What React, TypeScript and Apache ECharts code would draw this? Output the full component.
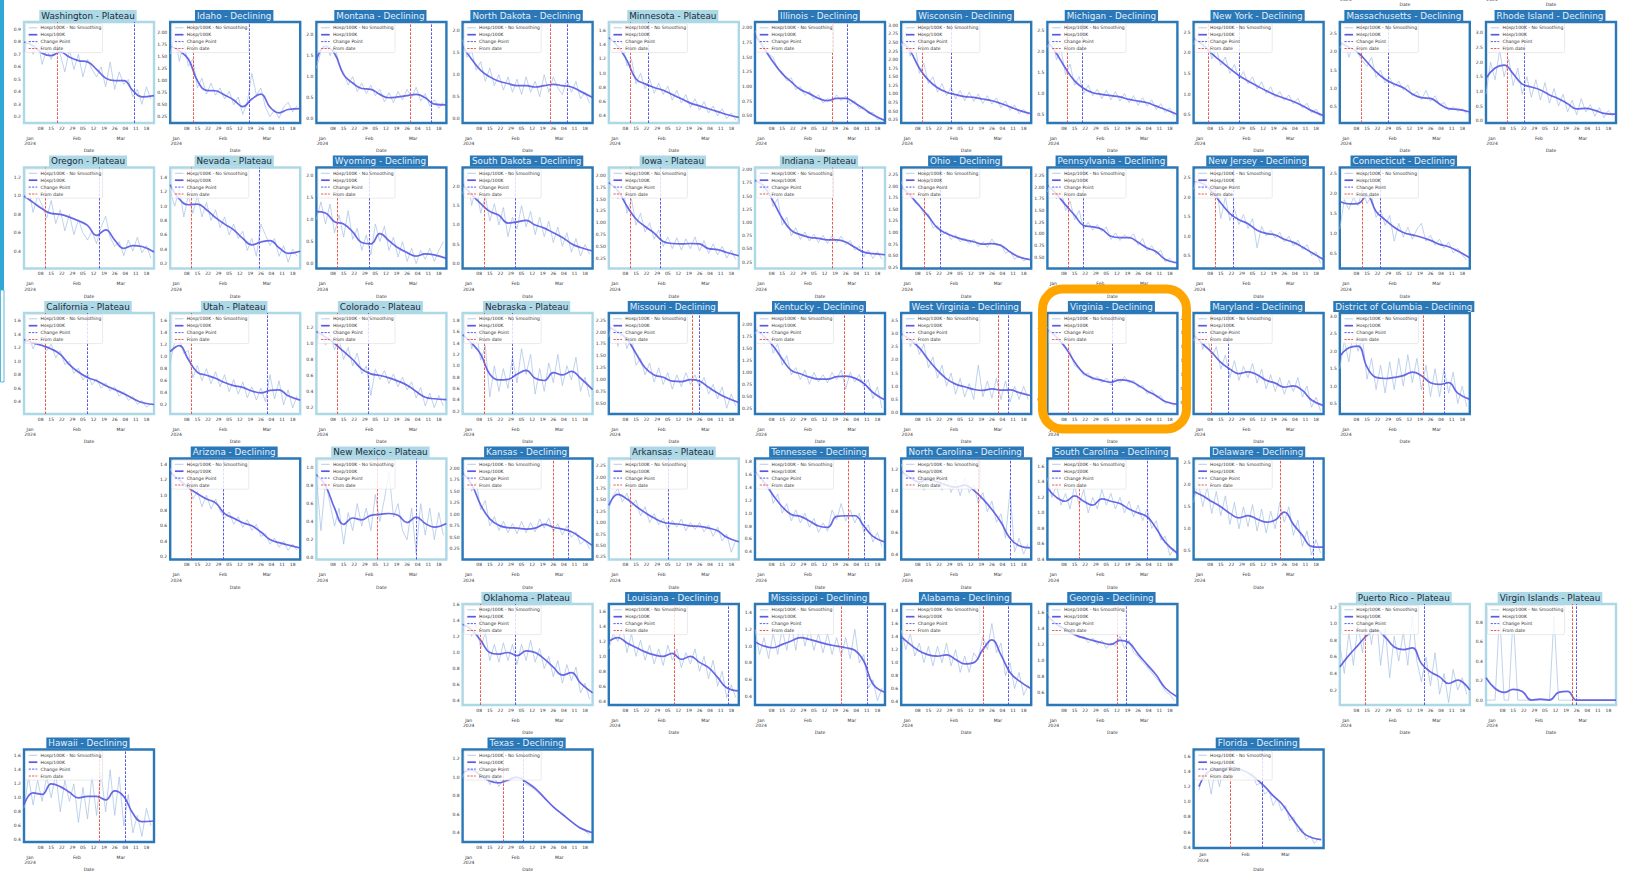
import React, { useEffect, useRef } from "react";
import * as echarts from "echarts";

// Day offsets from 1 Jan 2024 at which each series is sampled
const SMOOTH_DAYS = [-4, 2, 8, 14, 20, 26, 32, 38, 44, 50, 56, 62, 68, 74, 82];
const RAW_DAYS = [-4, -1, 2, 5, 8, 11, 14, 17, 20, 23, 26, 29, 32, 35, 38, 41, 44, 47, 50, 53, 56, 59, 62, 65, 68, 71, 74, 77, 80];
const FL_SMOOTH_DAYS = [-3, 3, 9, 15, 21, 27, 33, 39, 45, 51, 57, 63, 69, 75, 86];
const FL_RAW_DAYS = [-3, 0, 3, 6, 9, 12, 15, 18, 21, 24, 27, 30, 33, 36, 39, 42, 45, 48, 51, 54, 57, 60, 63, 66, 69, 72, 75, 78, 81, 84];

// Weekly (Monday) ticks and month ticks
const DAY_TICKS = [7, 14, 21, 28, 35, 42, 49, 56, 63, 70, 77];
const MONTH_TICKS = [0, 31, 60];
const MONTH_LABELS = ["Jan\n2024", "Feb", "Mar"];

const LEGEND_LABELS = ["Hosp/100K - No Smoothing", "Hosp/100K", "Change Point", "From date"];

const STATES = [
  "Washington", "Idaho", "Montana", "North Dakota", "Minnesota", "Illinois", "Wisconsin", "Michigan", "New York", "Massachusetts", "Rhode Island",
  "Oregon", "Nevada", "Wyoming", "South Dakota", "Iowa", "Indiana", "Ohio", "Pennsylvania", "New Jersey", "Connecticut",
  "California", "Utah", "Colorado", "Nebraska", "Missouri", "Kentucky", "West Virginia", "Virginia", "Maryland", "District of Columbia",
  "Arizona", "New Mexico", "Kansas", "Arkansas", "Tennessee", "North Carolina", "South Carolina", "Delaware",
  "Oklahoma", "Louisiana", "Mississippi", "Alabama", "Georgia", "Puerto Rico", "Virgin Islands",
  "Hawaii", "Texas", "Florida",
];
const CODES = [
  "WA", "ID", "MT", "ND", "MN", "IL", "WI", "MI", "NY", "MA", "RI",
  "OR", "NV", "WY", "SD", "IA", "IN", "OH", "PA", "NJ", "CT",
  "CA", "UT", "CO", "NE", "MO", "KY", "WV", "VA", "MD", "DC",
  "AZ", "NM", "KS", "AR", "TN", "NC", "SC", "DE",
  "OK", "LA", "MS", "AL", "GA", "PR", "VI",
  "HI", "TX", "FL",
];
const STATUS = [
  "Plateau", "Declining", "Declining", "Declining", "Plateau", "Declining", "Declining", "Declining", "Declining", "Declining", "Declining",
  "Plateau", "Plateau", "Declining", "Declining", "Plateau", "Plateau", "Declining", "Declining", "Declining", "Declining",
  "Plateau", "Plateau", "Plateau", "Plateau", "Declining", "Declining", "Declining", "Declining", "Declining", "Declining",
  "Declining", "Plateau", "Declining", "Plateau", "Declining", "Declining", "Declining", "Declining",
  "Plateau", "Declining", "Declining", "Declining", "Declining", "Plateau", "Plateau",
  "Declining", "Declining", "Declining",
];
const FROM_DATE_DAY = [
  18, 11, 58, 54, 10, 47, 10, 9, 6, 10, 10,
  10, 10, 10, 10, 10, 47, 11, 10, 10, 11,
  10, 10, 10, 10, 51, 55, 60, 10, 8, 51,
  10, 36, 56, 10, 58, 47, 17, 53,
  8, 39, 53, 50, 42, 13, 53,
  46, 23, 20,
];
const CHANGE_POINT_DAY = [
  69, 48, 72, 65, 22, 57, 29, 19, 26, 28, 21,
  46, 55, 31, 31, 30, 67, 22, 20, 22, 23,
  38, 60, 30, 29, 56, 68, 67, 39, 19, 65,
  31, 62, 66, 35, 68, 68, 62, 75,
  31, 75, 70, 67, 48, 52, 56,
  63, 36, 43,
];
const Y_MIN = [
  0.15, 0.12, -0.1, -0.1, 0.3, 0.38, 0.15, 0.3, 0.3, 0.06, -0.08,
  0.21, 0.13, -0.11, -0.12, 0.03, 0.13, 0.22, 0.26, 0.17, 0.11,
  0.22, 0.05, 0.12, 0.15, 0.28, 0.13, -0.05, 0.2, 0.3, 0.2,
  0.16, -0.02, 0.02, 0.19, 0.28, 0.35, 0.4, 0.3,
  0.35, 0.35, 0.3, 0.35, 0.45, 0.02, -0.05,
  0.37, 0.3, 0.39,
];
const Y_MAX = [
  0.96, 2.22, 2.3, 2.2, 1.72, 2.1, 3.1, 2.7, 2.75, 2.81, 3.37,
  1.31, 1.54, 2.18, 2.48, 2.17, 2.04, 2.41, 2.42, 2.76, 2.66,
  1.71, 1.72, 1.38, 1.93, 2.4, 2.24, 3.77, 2.3, 2.1, 3.1,
  1.48, 1.1, 2.21, 2.41, 1.85, 1.3, 1.7, 2.6,
  1.6, 1.7, 1.5, 1.9, 1.7, 1.24, 0.99,
  1.69, 1.3, 1.69,
];
const Y_STEP = [
  0.1, 0.25, 0.5, 0.5, 0.2, 0.25, 0.25, 0.5, 0.5, 0.5, 0.5,
  0.2, 0.2, 0.5, 0.5, 0.25, 0.25, 0.25, 0.25, 0.5, 0.5,
  0.2, 0.2, 0.2, 0.2, 0.25, 0.25, 0.5, 0.5, 0.25, 0.5,
  0.2, 0.2, 0.25, 0.25, 0.2, 0.2, 0.2, 0.5,
  0.2, 0.2, 0.2, 0.2, 0.2, 0.2, 0.2,
  0.2, 0.2, 0.2,
];

// Hospitalisations per 100K: smoothed curve and raw daily values
const WA_SMOOTH = [0.80, 0.77, 0.71, 0.69, 0.72, 0.68, 0.65, 0.64, 0.58, 0.51, 0.49, 0.49, 0.41, 0.36, 0.37];
const WA_RAW = [0.72, 0.86, 0.70, 0.82, 0.62, 0.74, 0.66, 0.78, 0.70, 0.56, 0.74, 0.58, 0.70, 0.52, 0.66, 0.58, 0.52, 0.60, 0.44, 0.64, 0.42, 0.56, 0.46, 0.50, 0.36, 0.42, 0.30, 0.44, 0.34];
const ID_SMOOTH = [1.72, 1.62, 1.45, 1.00, 0.80, 0.79, 0.70, 0.60, 0.46, 0.62, 0.72, 0.45, 0.33, 0.40, 0.42];
const ID_RAW = [1.55, 1.95, 1.40, 1.80, 1.30, 1.45, 0.85, 1.05, 0.72, 0.95, 0.70, 0.85, 0.62, 0.78, 0.50, 0.66, 0.30, 0.55, 1.15, 0.70, 0.85, 0.45, 0.25, 0.40, 0.22, 0.45, 0.55, 0.35, 0.48];
const MT_SMOOTH = [1.40, 1.72, 1.55, 1.05, 0.85, 0.72, 0.70, 0.58, 0.50, 0.52, 0.55, 0.58, 0.50, 0.35, 0.33];
const MT_RAW = [1.2, 1.6, 1.9, 1.5, 1.75, 1.3, 1.1, 0.8, 1.0, 0.65, 0.85, 0.6, 0.8, 0.55, 0.7, 0.4, 0.62, 0.38, 0.65, 0.45, 0.7, 0.5, 0.75, 0.42, 0.6, 0.3, 0.45, 0.25, 0.4];
const ND_SMOOTH = [1.65, 1.35, 1.10, 0.95, 0.85, 0.80, 0.75, 0.75, 0.72, 0.75, 0.78, 0.75, 0.72, 0.62, 0.48];
const ND_RAW = [1.8, 1.4, 1.55, 1.1, 1.3, 0.85, 1.15, 0.75, 1.0, 0.65, 0.95, 0.6, 0.9, 0.55, 0.95, 0.6, 0.85, 0.5, 1.0, 0.6, 0.95, 0.7, 0.55, 0.9, 0.6, 0.85, 0.45, 0.6, 0.35];
const MN_SMOOTH = [1.50, 1.38, 1.18, 0.92, 0.85, 0.80, 0.76, 0.70, 0.64, 0.58, 0.54, 0.50, 0.46, 0.42, 0.38];
const MN_RAW = [1.4, 1.55, 1.3, 1.45, 1.1, 1.2, 0.85, 1.0, 0.78, 0.92, 0.72, 0.86, 0.7, 0.82, 0.62, 0.76, 0.58, 0.7, 0.52, 0.64, 0.48, 0.6, 0.44, 0.54, 0.4, 0.5, 0.36, 0.44, 0.34];
const IL_SMOOTH = [1.88, 1.65, 1.42, 1.22, 1.08, 0.95, 0.88, 0.80, 0.76, 0.80, 0.80, 0.72, 0.62, 0.52, 0.42];
const IL_RAW = [1.95, 1.8, 1.7, 1.55, 1.5, 1.3, 1.25, 1.1, 1.15, 0.95, 1.0, 0.85, 0.92, 0.78, 0.86, 0.72, 0.8, 0.74, 0.86, 0.76, 0.84, 0.7, 0.76, 0.62, 0.66, 0.54, 0.56, 0.44, 0.46];
const WI_SMOOTH = [2.55, 2.25, 1.75, 1.40, 1.18, 1.05, 0.98, 0.92, 0.90, 0.85, 0.80, 0.72, 0.62, 0.52, 0.42];
const WI_RAW = [2.4, 2.8, 2.1, 2.5, 1.6, 1.9, 1.3, 1.5, 1.05, 1.3, 0.95, 1.2, 0.85, 1.1, 0.8, 1.05, 0.78, 1.0, 0.72, 0.95, 0.7, 0.88, 0.6, 0.8, 0.52, 0.68, 0.42, 0.55, 0.38];
const MI_SMOOTH = [2.25, 1.95, 1.60, 1.30, 1.12, 1.02, 0.98, 0.95, 0.92, 0.86, 0.82, 0.78, 0.70, 0.62, 0.50];
const MI_RAW = [2.1, 2.4, 1.8, 2.05, 1.45, 1.7, 1.2, 1.4, 1.0, 1.2, 0.95, 1.1, 0.88, 1.08, 0.85, 1.05, 0.82, 1.0, 0.78, 0.95, 0.72, 0.9, 0.7, 0.85, 0.62, 0.76, 0.55, 0.66, 0.45];
const NY_SMOOTH = [2.35, 2.20, 1.98, 1.80, 1.62, 1.45, 1.32, 1.20, 1.08, 0.98, 0.90, 0.82, 0.72, 0.60, 0.48];
const NY_RAW = [2.2, 2.5, 2.05, 2.35, 1.85, 2.1, 1.7, 1.9, 1.5, 1.72, 1.38, 1.55, 1.25, 1.42, 1.12, 1.3, 1.02, 1.18, 0.92, 1.06, 0.85, 0.98, 0.76, 0.9, 0.66, 0.78, 0.55, 0.64, 0.45];
const MA_SMOOTH = [2.25, 2.12, 1.98, 1.72, 1.45, 1.25, 1.12, 1.02, 0.85, 0.75, 0.73, 0.58, 0.45, 0.43, 0.36];
const MA_RAW = [2.1, 2.3, 1.85, 2.2, 1.95, 1.75, 1.6, 1.85, 1.3, 1.5, 1.15, 1.3, 1.05, 1.2, 0.95, 1.1, 0.8, 0.92, 0.7, 0.95, 0.65, 0.8, 0.55, 0.62, 0.4, 0.5, 0.38, 0.45, 0.3];
const RI_SMOOTH = [1.45, 1.80, 1.90, 1.60, 1.25, 1.15, 1.05, 0.88, 0.75, 0.58, 0.40, 0.42, 0.35, 0.25, 0.22];
const RI_RAW = [0.9, 2.0, 1.4, 2.4, 1.5, 2.1, 1.2, 1.8, 0.9, 1.5, 0.8, 1.4, 0.7, 1.3, 0.6, 1.1, 0.5, 0.9, 0.3, 0.7, 0.2, 0.75, 0.3, 0.55, 0.15, 0.45, 0.1, 0.35, 0.15];
const OR_SMOOTH = [1.00, 0.93, 0.86, 0.81, 0.80, 0.77, 0.73, 0.68, 0.57, 0.63, 0.52, 0.43, 0.46, 0.45, 0.39];
const OR_RAW = [0.95, 1.1, 0.82, 1.0, 0.9, 0.76, 0.95, 0.7, 0.85, 0.62, 0.8, 0.58, 0.74, 0.6, 0.52, 0.62, 0.48, 0.66, 0.78, 0.55, 0.45, 0.5, 0.35, 0.52, 0.4, 0.55, 0.38, 0.46, 0.32];
const NV_SMOOTH = [1.30, 1.10, 1.02, 1.03, 0.95, 0.84, 0.75, 0.67, 0.55, 0.46, 0.50, 0.52, 0.42, 0.34, 0.37];
const NV_RAW = [1.2, 1.0, 1.25, 0.85, 1.15, 0.9, 1.15, 0.85, 1.05, 0.8, 0.95, 0.7, 0.85, 0.6, 0.75, 0.55, 0.65, 0.38, 0.55, 0.3, 0.75, 0.6, 0.45, 0.55, 0.3, 0.45, 0.22, 0.4, 0.3];
const WY_SMOOTH = [1.18, 1.15, 0.95, 0.90, 0.72, 0.48, 0.45, 0.68, 0.52, 0.36, 0.25, 0.17, 0.22, 0.20, 0.12];
const WY_RAW = [1.0, 1.4, 0.9, 1.35, 0.7, 1.1, 0.6, 1.2, 0.55, 0.8, 0.3, 0.65, 0.2, 0.9, 0.5, 0.85, 0.3, 0.6, 0.15, 0.5, 0.05, 0.35, 0.0, 0.3, 0.1, 0.35, 0.05, 0.3, 0.5];
const SD_SMOOTH = [2.05, 1.78, 1.55, 1.35, 1.25, 1.05, 1.08, 1.12, 1.00, 0.92, 0.80, 0.68, 0.52, 0.42, 0.33];
const SD_RAW = [1.8, 2.3, 1.5, 2.0, 1.3, 1.75, 1.1, 1.55, 1.0, 1.45, 0.7, 1.2, 0.9, 1.5, 0.95, 1.35, 0.75, 1.2, 0.7, 1.1, 0.55, 0.95, 0.45, 0.8, 0.3, 0.65, 0.2, 0.5, 0.25];
const IA_SMOOTH = [1.85, 1.68, 1.35, 1.08, 0.92, 0.78, 0.60, 0.56, 0.55, 0.56, 0.55, 0.45, 0.43, 0.37, 0.30];
const IA_RAW = [1.7, 2.0, 1.5, 1.8, 1.2, 1.5, 0.95, 1.2, 0.8, 1.0, 0.65, 0.85, 0.5, 0.7, 0.45, 0.68, 0.42, 0.66, 0.45, 0.7, 0.4, 0.62, 0.35, 0.55, 0.32, 0.5, 0.25, 0.42, 0.22];
const IN_SMOOTH = [1.80, 1.68, 1.40, 1.08, 0.85, 0.77, 0.72, 0.70, 0.67, 0.67, 0.63, 0.53, 0.44, 0.41, 0.39];
const IN_RAW = [1.75, 1.9, 1.55, 1.7, 1.3, 1.45, 0.95, 1.1, 0.75, 0.9, 0.68, 0.82, 0.65, 0.78, 0.62, 0.76, 0.6, 0.75, 0.62, 0.74, 0.58, 0.66, 0.48, 0.55, 0.35, 0.48, 0.32, 0.45, 0.3];
const OH_SMOOTH = [2.00, 1.80, 1.58, 1.35, 1.10, 0.98, 0.90, 0.84, 0.80, 0.75, 0.76, 0.72, 0.58, 0.47, 0.41];
const OH_RAW = [2.1, 1.85, 1.9, 1.65, 1.6, 1.4, 1.4, 1.1, 1.15, 0.95, 1.02, 0.85, 0.95, 0.8, 0.88, 0.76, 0.85, 0.7, 0.8, 0.68, 0.86, 0.72, 0.75, 0.55, 0.6, 0.42, 0.5, 0.38, 0.44];
const PA_SMOOTH = [2.05, 1.85, 1.62, 1.40, 1.18, 1.15, 1.10, 0.95, 0.92, 0.92, 0.82, 0.70, 0.62, 0.45, 0.38];
const PA_RAW = [1.9, 2.15, 1.75, 1.95, 1.5, 1.7, 1.3, 1.5, 1.1, 1.25, 1.08, 1.2, 1.05, 1.15, 0.88, 1.02, 0.86, 0.98, 0.9, 1.0, 0.76, 0.9, 0.64, 0.75, 0.56, 0.65, 0.4, 0.48, 0.36];
const NJ_SMOOTH = [2.40, 2.35, 2.15, 1.85, 1.58, 1.42, 1.32, 1.15, 1.07, 1.03, 0.92, 0.84, 0.72, 0.58, 0.40];
const NJ_RAW = [2.2, 2.6, 2.2, 2.5, 2.0, 2.3, 1.45, 2.0, 1.4, 1.7, 1.3, 1.55, 1.2, 1.45, 0.7, 1.25, 1.0, 1.15, 0.95, 1.1, 0.85, 1.0, 0.75, 0.9, 0.65, 0.78, 0.5, 0.6, 0.3];
const CT_SMOOTH = [1.80, 1.74, 1.75, 1.95, 1.55, 1.34, 1.15, 1.02, 0.96, 0.90, 0.82, 0.72, 0.66, 0.55, 0.38];
const CT_RAW = [1.1, 1.85, 1.6, 1.9, 1.7, 2.1, 1.75, 1.95, 1.4, 1.6, 1.2, 1.45, 0.8, 1.25, 0.9, 1.15, 0.85, 1.1, 1.25, 0.8, 0.95, 0.7, 0.85, 0.62, 0.78, 0.5, 0.62, 0.45, 0.32];
const CA_SMOOTH = [1.32, 1.27, 1.23, 1.18, 1.10, 0.95, 0.84, 0.76, 0.71, 0.64, 0.58, 0.52, 0.45, 0.39, 0.36];
const CA_RAW = [1.25, 1.4, 1.18, 1.32, 1.25, 1.15, 1.25, 1.05, 1.15, 0.95, 1.0, 0.82, 0.9, 0.72, 0.82, 0.65, 0.74, 0.6, 0.68, 0.56, 0.62, 0.48, 0.55, 0.42, 0.48, 0.36, 0.42, 0.32, 0.37];
const UT_SMOOTH = [1.08, 1.18, 0.95, 0.74, 0.69, 0.64, 0.57, 0.52, 0.49, 0.43, 0.40, 0.44, 0.45, 0.35, 0.28];
const UT_RAW = [0.9, 1.25, 1.3, 1.05, 1.1, 0.65, 0.85, 0.6, 0.8, 0.55, 0.75, 0.5, 0.7, 0.42, 0.62, 0.38, 0.58, 0.32, 0.5, 0.28, 0.48, 0.25, 0.7, 0.3, 0.6, 0.2, 0.45, 0.15, 0.35];
const CO_SMOOTH = [1.15, 1.08, 1.00, 0.90, 0.80, 0.68, 0.62, 0.60, 0.57, 0.53, 0.48, 0.40, 0.33, 0.31, 0.30];
const CO_RAW = [1.05, 1.2, 0.98, 1.12, 0.92, 1.05, 0.8, 0.95, 0.72, 0.88, 0.62, 0.72, 0.35, 0.68, 0.55, 0.66, 0.5, 0.62, 0.46, 0.58, 0.42, 0.52, 0.32, 0.45, 0.22, 0.38, 0.2, 0.35, 0.22];
const NE_SMOOTH = [1.55, 1.40, 1.20, 0.85, 0.75, 0.76, 0.85, 0.92, 0.78, 0.74, 0.88, 0.84, 0.90, 0.78, 0.58];
const NE_RAW = [1.4, 1.8, 1.3, 1.6, 1.1, 1.35, 0.45, 1.0, 0.55, 0.95, 0.6, 1.15, 0.7, 1.3, 0.85, 1.2, 0.5, 0.95, 0.55, 1.05, 0.7, 1.2, 0.65, 1.0, 0.75, 1.15, 0.55, 0.8, 0.45];
const MO_SMOOTH = [2.10, 2.00, 1.85, 1.55, 1.25, 1.10, 1.05, 0.97, 0.96, 1.00, 0.97, 0.84, 0.72, 0.62, 0.52];
const MO_RAW = [1.9, 2.3, 1.7, 2.1, 1.65, 1.9, 1.3, 1.45, 1.1, 1.35, 0.95, 1.25, 0.9, 1.15, 0.8, 1.1, 0.85, 1.15, 0.9, 1.1, 0.85, 1.05, 0.7, 0.9, 0.6, 0.85, 0.4, 0.7, 0.45];
const KY_SMOOTH = [1.90, 1.75, 1.55, 1.28, 1.04, 0.97, 0.90, 0.86, 0.86, 0.91, 0.92, 0.88, 0.77, 0.58, 0.42];
const KY_RAW = [1.8, 2.0, 1.6, 1.85, 1.4, 1.6, 1.15, 1.35, 0.95, 1.1, 0.85, 1.05, 0.75, 1.0, 0.8, 0.95, 0.78, 1.0, 0.85, 1.05, 0.65, 1.0, 0.8, 0.95, 0.7, 0.85, 0.45, 0.7, 0.25];
const WV_SMOOTH = [3.00, 2.75, 2.45, 2.00, 1.60, 1.28, 1.08, 0.98, 0.88, 0.84, 0.90, 0.85, 0.86, 0.76, 0.64];
const WV_RAW = [2.8, 3.3, 2.5, 2.9, 2.2, 2.6, 1.7, 2.1, 1.3, 1.8, 1.0, 1.5, 0.7, 1.3, 0.6, 1.1, 0.5, 1.8, 0.6, 1.2, 0.55, 1.3, 0.5, 1.2, 0.4, 1.0, 0.5, 1.0, 0.5];
const VA_SMOOTH = [1.95, 1.80, 1.58, 1.28, 1.05, 0.95, 0.90, 0.86, 0.91, 0.89, 0.80, 0.68, 0.58, 0.46, 0.40];
const VA_RAW = [2.0, 1.9, 1.85, 1.75, 1.6, 1.5, 1.2, 1.15, 1.0, 1.05, 0.9, 0.98, 0.85, 0.95, 0.8, 0.95, 0.85, 0.98, 0.85, 0.9, 0.75, 0.8, 0.62, 0.7, 0.55, 0.58, 0.42, 0.45, 0.36];
const MD_SMOOTH = [1.70, 1.55, 1.40, 1.22, 1.10, 1.02, 1.05, 1.00, 0.90, 0.85, 0.78, 0.80, 0.72, 0.55, 0.45];
const MD_RAW = [1.6, 1.9, 1.45, 1.7, 1.3, 1.5, 1.1, 1.35, 0.95, 1.25, 0.9, 1.15, 0.95, 1.2, 0.85, 1.1, 0.75, 1.0, 0.7, 0.95, 0.65, 0.9, 0.7, 0.95, 0.6, 0.8, 0.42, 0.6, 0.35];
const DC_SMOOTH = [1.85, 2.10, 2.15, 1.55, 1.25, 1.22, 1.25, 1.30, 1.40, 1.30, 1.10, 1.05, 1.10, 0.80, 0.62];
const DC_RAW = [1.5, 2.3, 1.7, 2.6, 2.0, 2.4, 1.2, 1.8, 0.9, 1.6, 0.8, 1.7, 0.9, 1.8, 1.0, 1.9, 1.1, 1.8, 0.9, 1.6, 0.7, 1.5, 0.7, 1.5, 0.8, 1.4, 0.5, 1.0, 0.4];
const AZ_SMOOTH = [1.30, 1.20, 1.10, 1.02, 0.95, 0.90, 0.76, 0.70, 0.64, 0.60, 0.52, 0.42, 0.38, 0.35, 0.31];
const AZ_RAW = [1.35, 1.2, 1.25, 1.1, 1.15, 0.95, 1.05, 0.85, 1.0, 0.82, 0.95, 0.8, 0.7, 0.78, 0.62, 0.72, 0.58, 0.68, 0.54, 0.62, 0.46, 0.5, 0.36, 0.44, 0.32, 0.4, 0.28, 0.36, 0.28];
const NM_SMOOTH = [0.92, 0.80, 0.55, 0.37, 0.44, 0.42, 0.47, 0.48, 0.49, 0.47, 0.39, 0.45, 0.38, 0.34, 0.38];
const NM_RAW = [0.9, 0.3, 0.85, 0.6, 0.35, 0.55, 0.15, 0.5, 0.3, 0.6, 0.35, 0.55, 0.3, 0.7, 0.4, 0.65, 0.95, 0.45, 0.6, 0.3, 0.2, 0.55, 0.05, 0.6, 0.25, 0.55, 0.2, 0.5, 0.25];
const KS_SMOOTH = [1.90, 1.65, 1.20, 0.90, 0.76, 0.71, 0.70, 0.68, 0.70, 0.78, 0.72, 0.68, 0.62, 0.50, 0.32];
const KS_RAW = [1.8, 2.0, 1.5, 1.7, 1.1, 1.3, 0.75, 0.95, 0.65, 0.85, 0.6, 0.8, 0.58, 0.85, 0.6, 0.82, 0.62, 0.9, 0.7, 0.92, 0.62, 0.8, 0.55, 0.75, 0.5, 0.62, 0.35, 0.45, 0.25];
const AR_SMOOTH = [1.38, 1.62, 1.52, 1.36, 1.22, 1.10, 1.01, 0.98, 0.96, 0.93, 0.92, 0.88, 0.82, 0.68, 0.58];
const AR_RAW = [1.3, 1.6, 1.75, 1.45, 1.65, 1.35, 1.5, 1.15, 1.35, 1.0, 1.2, 0.95, 1.1, 0.85, 1.05, 0.9, 1.08, 0.82, 1.0, 0.85, 1.0, 0.8, 0.95, 0.7, 0.9, 0.6, 0.75, 0.35, 0.62];
const TN_SMOOTH = [1.65, 1.48, 1.28, 1.10, 0.98, 0.95, 0.88, 0.80, 0.78, 0.95, 0.96, 0.96, 0.80, 0.64, 0.55];
const TN_RAW = [1.6, 1.75, 1.4, 1.55, 1.15, 1.3, 1.0, 1.15, 0.88, 1.05, 0.85, 1.0, 0.78, 0.92, 0.7, 0.85, 0.72, 1.05, 0.9, 1.15, 0.88, 1.05, 0.85, 1.0, 0.7, 0.82, 0.55, 0.7, 0.48];
const NC_SMOOTH = [1.18, 1.12, 1.08, 1.10, 1.08, 1.05, 1.03, 1.05, 1.00, 0.92, 0.82, 0.70, 0.55, 0.48, 0.46];
const NC_RAW = [1.25, 1.1, 1.2, 1.05, 1.15, 1.0, 1.15, 1.05, 1.2, 1.0, 1.12, 0.98, 1.1, 0.95, 1.12, 0.98, 1.05, 0.88, 0.98, 0.8, 0.9, 0.7, 0.78, 0.55, 1.0, 0.42, 0.55, 0.4, 0.5];
const SC_SMOOTH = [1.32, 1.20, 1.15, 1.22, 1.15, 1.10, 1.18, 1.15, 1.12, 1.05, 1.00, 0.95, 0.80, 0.62, 0.48];
const SC_RAW = [1.45, 1.2, 1.35, 1.1, 1.25, 1.05, 1.35, 1.1, 1.3, 1.0, 1.2, 1.05, 1.3, 1.1, 1.25, 1.05, 1.2, 1.0, 1.15, 0.95, 1.1, 0.9, 1.05, 0.8, 0.9, 0.65, 0.7, 0.45, 0.55];
const DE_SMOOTH = [1.85, 1.75, 1.62, 1.50, 1.35, 1.25, 1.30, 1.22, 1.15, 1.20, 1.38, 1.10, 0.85, 0.60, 0.58];
const DE_RAW = [1.6, 2.1, 1.5, 1.95, 1.35, 1.85, 1.3, 1.75, 1.1, 1.6, 1.0, 1.5, 1.05, 1.55, 0.95, 1.45, 0.9, 1.4, 1.0, 1.6, 1.15, 1.5, 0.85, 1.2, 0.6, 0.95, 0.4, 0.75, 0.45];
const OK_SMOOTH = [1.35, 1.28, 1.15, 1.00, 0.98, 1.00, 0.96, 1.02, 1.00, 0.92, 0.82, 0.72, 0.75, 0.62, 0.50];
const OK_RAW = [1.25, 1.45, 1.2, 1.35, 1.05, 1.25, 0.9, 1.1, 0.88, 1.12, 0.9, 1.1, 0.85, 1.1, 0.9, 1.15, 0.88, 1.05, 0.8, 0.95, 0.7, 0.9, 0.62, 0.85, 0.65, 0.82, 0.5, 0.62, 0.42];
const LA_SMOOTH = [1.20, 1.25, 1.18, 1.12, 1.06, 1.02, 1.00, 1.04, 0.96, 1.00, 0.92, 0.85, 0.72, 0.58, 0.54];
const LA_RAW = [1.1, 1.3, 1.2, 1.4, 1.05, 1.3, 1.0, 1.22, 0.95, 1.15, 0.9, 1.1, 0.88, 1.15, 0.95, 1.1, 0.85, 1.05, 0.9, 1.1, 0.8, 1.0, 0.7, 0.95, 0.6, 0.8, 0.45, 0.62, 0.45];
const MS_SMOOTH = [1.05, 1.00, 0.98, 1.02, 1.06, 1.10, 1.08, 1.05, 1.02, 1.00, 0.98, 0.95, 0.82, 0.55, 0.45];
const MS_RAW = [1.2, 0.9, 1.1, 0.85, 1.15, 0.9, 1.2, 0.95, 1.25, 0.95, 1.3, 1.0, 1.2, 0.95, 1.15, 0.92, 1.15, 0.9, 1.1, 0.88, 1.1, 0.85, 1.2, 0.8, 0.9, 0.5, 0.6, 0.35, 0.5];
const AL_SMOOTH = [1.40, 1.28, 1.18, 1.12, 1.10, 1.12, 1.05, 0.98, 1.00, 1.20, 1.35, 1.12, 0.85, 0.72, 0.60];
const AL_RAW = [1.5, 1.2, 1.45, 1.1, 1.3, 1.0, 1.25, 0.95, 1.25, 1.0, 1.3, 0.95, 1.2, 0.85, 1.1, 0.85, 1.15, 1.05, 1.4, 1.2, 1.6, 1.15, 1.3, 0.8, 1.0, 0.6, 0.85, 0.5, 0.65];
const GA_SMOOTH = [1.55, 1.45, 1.38, 1.32, 1.28, 1.25, 1.22, 1.20, 1.25, 1.22, 1.08, 0.95, 0.82, 0.66, 0.55];
const GA_RAW = [1.6, 1.5, 1.5, 1.42, 1.4, 1.35, 1.35, 1.28, 1.3, 1.22, 1.28, 1.2, 1.25, 1.15, 1.22, 1.18, 1.3, 1.15, 1.25, 1.1, 1.05, 0.98, 0.92, 0.85, 0.78, 0.72, 0.62, 0.58, 0.5];
const PR_SMOOTH = [0.48, 0.62, 0.74, 0.86, 0.92, 0.84, 0.72, 0.69, 0.71, 0.52, 0.42, 0.36, 0.28, 0.32, 0.20];
const PR_RAW = [0.75, 0.4, 0.9, 0.5, 1.0, 0.65, 1.1, 0.75, 1.15, 0.5, 0.95, 0.35, 0.85, 0.55, 0.9, 0.5, 1.1, 0.55, 0.3, 0.6, 0.25, 0.65, 0.15, 0.4, 0.05, 0.45, 0.2, 0.35, 0.15];
const VI_SMOOTH = [0.23, 0.12, 0.08, 0.11, 0.09, 0.00, 0.01, 0.00, 0.08, 0.09, 0.00, 0.00, 0.00, 0.00, 0.00];
const VI_RAW = [0, 0, 0, 0.9, 0, 0, 0.88, 0, 0, 0, 0, 0, 0, 0, 0, 0.86, 0, 0, 0, 0, 0, 0, 0, 0, 0, 0, 0, 0, 0];
const HI_SMOOTH = [0.90, 1.07, 1.05, 1.20, 1.16, 1.08, 1.00, 1.02, 1.02, 0.97, 1.10, 1.02, 0.78, 0.66, 0.67];
const HI_RAW = [0.85, 1.3, 0.9, 1.25, 0.95, 1.3, 1.0, 1.35, 0.8, 1.25, 0.95, 1.2, 0.65, 1.15, 0.7, 1.3, 0.75, 1.35, 0.8, 1.4, 0.75, 1.3, 0.6, 1.05, 0.5, 0.75, 0.45, 0.85, 0.6];
const TX_SMOOTH = [1.05, 1.08, 1.02, 0.96, 0.94, 0.97, 1.00, 0.95, 0.88, 0.78, 0.68, 0.60, 0.52, 0.45, 0.40];
const TX_RAW = [1.0, 1.15, 1.05, 1.12, 0.98, 1.05, 0.92, 1.0, 0.9, 0.98, 0.95, 1.02, 0.98, 1.0, 0.92, 0.9, 0.86, 0.82, 0.78, 0.72, 0.68, 0.63, 0.6, 0.56, 0.52, 0.48, 0.45, 0.42, 0.38];
const FL_SMOOTH = [1.20, 1.38, 1.43, 1.44, 1.45, 1.43, 1.38, 1.30, 1.20, 1.08, 0.98, 0.83, 0.68, 0.56, 0.50];
const FL_RAW = [1.15, 1.35, 1.4, 1.1, 1.45, 1.2, 1.45, 1.42, 1.3, 1.45, 1.4, 1.35, 1.3, 1.38, 1.22, 1.25, 1.1, 1.15, 0.95, 1.05, 0.88, 0.95, 0.75, 0.8, 0.6, 0.65, 0.5, 0.55, 0.45, 0.52];

// Lookup tables built from the named arrays above
const SMOOTH_BY_CODE: Record<string, number[]> = {
  WA: WA_SMOOTH, ID: ID_SMOOTH, MT: MT_SMOOTH, ND: ND_SMOOTH, MN: MN_SMOOTH, IL: IL_SMOOTH, WI: WI_SMOOTH, MI: MI_SMOOTH, NY: NY_SMOOTH, MA: MA_SMOOTH, RI: RI_SMOOTH,
  OR: OR_SMOOTH, NV: NV_SMOOTH, WY: WY_SMOOTH, SD: SD_SMOOTH, IA: IA_SMOOTH, IN: IN_SMOOTH, OH: OH_SMOOTH, PA: PA_SMOOTH, NJ: NJ_SMOOTH, CT: CT_SMOOTH,
  CA: CA_SMOOTH, UT: UT_SMOOTH, CO: CO_SMOOTH, NE: NE_SMOOTH, MO: MO_SMOOTH, KY: KY_SMOOTH, WV: WV_SMOOTH, VA: VA_SMOOTH, MD: MD_SMOOTH, DC: DC_SMOOTH,
  AZ: AZ_SMOOTH, NM: NM_SMOOTH, KS: KS_SMOOTH, AR: AR_SMOOTH, TN: TN_SMOOTH, NC: NC_SMOOTH, SC: SC_SMOOTH, DE: DE_SMOOTH,
  OK: OK_SMOOTH, LA: LA_SMOOTH, MS: MS_SMOOTH, AL: AL_SMOOTH, GA: GA_SMOOTH, PR: PR_SMOOTH, VI: VI_SMOOTH,
  HI: HI_SMOOTH, TX: TX_SMOOTH, FL: FL_SMOOTH,
};
const RAW_BY_CODE: Record<string, number[]> = {
  WA: WA_RAW, ID: ID_RAW, MT: MT_RAW, ND: ND_RAW, MN: MN_RAW, IL: IL_RAW, WI: WI_RAW, MI: MI_RAW, NY: NY_RAW, MA: MA_RAW, RI: RI_RAW,
  OR: OR_RAW, NV: NV_RAW, WY: WY_RAW, SD: SD_RAW, IA: IA_RAW, IN: IN_RAW, OH: OH_RAW, PA: PA_RAW, NJ: NJ_RAW, CT: CT_RAW,
  CA: CA_RAW, UT: UT_RAW, CO: CO_RAW, NE: NE_RAW, MO: MO_RAW, KY: KY_RAW, WV: WV_RAW, VA: VA_RAW, MD: MD_RAW, DC: DC_RAW,
  AZ: AZ_RAW, NM: NM_RAW, KS: KS_RAW, AR: AR_RAW, TN: TN_RAW, NC: NC_RAW, SC: SC_RAW, DE: DE_RAW,
  OK: OK_RAW, LA: LA_RAW, MS: MS_RAW, AL: AL_RAW, GA: GA_RAW, PR: PR_RAW, VI: VI_RAW,
  HI: HI_RAW, TX: TX_RAW, FL: FL_RAW,
};

// Tile-map placement (row, column) of each panel
const TILE_ROW = [
  0, 0, 0, 0, 0, 0, 0, 0, 0, 0, 0,
  1, 1, 1, 1, 1, 1, 1, 1, 1, 1,
  2, 2, 2, 2, 2, 2, 2, 2, 2, 2,
  3, 3, 3, 3, 3, 3, 3, 3,
  4, 4, 4, 4, 4, 4, 4,
  5, 5, 5,
];
const TILE_COL = [
  0, 1, 2, 3, 4, 5, 6, 7, 8, 9, 10,
  0, 1, 2, 3, 4, 5, 6, 7, 8, 9,
  0, 1, 2, 3, 4, 5, 6, 7, 8, 9,
  1, 2, 3, 4, 5, 6, 7, 8,
  3, 4, 5, 6, 7, 9, 10,
  0, 3, 8,
];
// Columns whose panels sit in a row above the visible area (only their captions show)
const CUT_OFF_COLS = [9, 10];

// Panel geometry and styling
const CELL_W = 146.2;
const CELL_H = 145.5;
const PLOT_X0 = 24;
const PLOT_Y0 = 22;
const PLOT_W = 130;
const PLOT_H = 101;
const FONT = "DejaVu Sans";
const TICK_COLOR = "#333333";
const PLATEAU_COLOR = "#add8e6";
const DECLINING_COLOR = "#2a78b8";
const RAW_COLOR = "#a3c0e4";
const SMOOTH_COLOR = "#5858e4";
const CP_COLOR = "#4646ea";
const FROM_COLOR = "#e8453c";

const dayLabel = (v: number) => {
  const d = new Date(2024, 0, 1 + Math.round(v));
  return String(d.getDate()).padStart(2, "0");
};
const monthLabel = (v: number) => {
  const k = MONTH_TICKS.findIndex((m) => Math.abs(m - v) < 0.01);
  return k >= 0 ? MONTH_LABELS[k] : "";
};

function buildOption() {
  const grids: any[] = [];
  const xAxes: any[] = [];
  const yAxes: any[] = [];
  const series: any[] = [];
  const graphics: any[] = [];

  STATES.forEach((state, i) => {
    const code = CODES[i];
    const L = PLOT_X0 + CELL_W * TILE_COL[i];
    const T = PLOT_Y0 + CELL_H * TILE_ROW[i];
    const declining = STATUS[i] === "Declining";
    const frame = declining ? DECLINING_COLOR : PLATEAU_COLOR;
    const isFL = code === "FL";
    const xMin = isFL ? -6.8 : -4;
    const xMax = isFL ? 87.7 : 82;
    const smoothDays = isFL ? FL_SMOOTH_DAYS : SMOOTH_DAYS;
    const rawDays = isFL ? FL_RAW_DAYS : RAW_DAYS;

    grids.push({
      left: L, top: T, width: PLOT_W, height: PLOT_H,
      show: true, borderColor: frame, borderWidth: 2.4, backgroundColor: "rgba(0,0,0,0)",
    });

    // day-of-month axis
    xAxes.push({
      type: "value", gridIndex: i, min: xMin, max: xMax, position: "bottom",
      axisLine: { show: false }, axisTick: { show: false }, splitLine: { show: false },
      axisLabel: {
        show: !isFL, customValues: DAY_TICKS, formatter: dayLabel,
        fontSize: 4.5, color: TICK_COLOR, margin: 2.6, fontFamily: FONT,
      },
    });
    // month axis + "Date" caption
    xAxes.push({
      type: "value", gridIndex: i, min: xMin, max: xMax, position: "bottom",
      axisLine: { show: false }, axisTick: { show: false }, splitLine: { show: false },
      axisLabel: {
        customValues: MONTH_TICKS, formatter: monthLabel,
        fontSize: 4.5, lineHeight: 5.6, color: TICK_COLOR, margin: isFL ? 4 : 12.5, fontFamily: FONT,
      },
      name: "Date", nameLocation: "middle", nameGap: isFL ? 19 : 25,
      nameTextStyle: { fontSize: 4.5, color: TICK_COLOR, fontFamily: FONT },
    });

    const step = Y_STEP[i];
    const decimals = Math.abs(step * 10 - Math.round(step * 10)) > 1e-9 ? 2 : 1;
    const ticks: number[] = [];
    for (let k = Math.ceil(Y_MIN[i] / step - 1e-9); k * step <= Y_MAX[i] + 1e-9; k++) {
      ticks.push(Math.round(k * step * 1000) / 1000);
    }
    yAxes.push({
      type: "value", gridIndex: i, min: Y_MIN[i], max: Y_MAX[i],
      axisLine: { show: false }, axisTick: { show: false }, splitLine: { show: false },
      axisLabel: {
        customValues: ticks, formatter: (v: number) => (Math.abs(v) < 1e-9 ? 0 : v).toFixed(decimals),
        fontSize: 4.5, color: TICK_COLOR, margin: 3, fontFamily: FONT,
      },
    });

    const raw = RAW_BY_CODE[code];
    const smooth = SMOOTH_BY_CODE[code];
    series.push({
      type: "line", xAxisIndex: 2 * i, yAxisIndex: i, silent: true, z: 2,
      symbol: "none", data: raw.map((v, k) => [rawDays[k], v]),
      lineStyle: { color: RAW_COLOR, width: 0.7 },
    });
    series.push({
      type: "line", xAxisIndex: 2 * i, yAxisIndex: i, silent: true, z: 3,
      symbol: "none", smooth: 0.45, data: smooth.map((v, k) => [smoothDays[k], v]),
      lineStyle: { color: SMOOTH_COLOR, width: 1.7, opacity: 0.9 },
      markLine: {
        silent: true, symbol: ["none", "none"], label: { show: false }, animation: false,
        data: [
          { xAxis: FROM_DATE_DAY[i], lineStyle: { color: FROM_COLOR, type: [2.6, 1.4], width: 0.9 } },
          { xAxis: CHANGE_POINT_DAY[i], lineStyle: { color: CP_COLOR, type: [2.6, 1.4], width: 0.9 } },
        ],
      },
    });

    // title banner
    graphics.push({
      type: "text", x: L + 64, y: T - 12, z: 12, silent: true,
      style: {
        text: `${state} - ${STATUS[i]}`, fontSize: 8.8, fontFamily: FONT,
        fill: declining ? "#e3f0fa" : "#1c2b3a", align: "center", verticalAlign: "top",
        backgroundColor: frame, padding: [1, 2, 0.5, 2], lineHeight: 9.6,
      },
    });

    // legend box
    graphics.push({
      type: "rect", z: 10, silent: true,
      shape: { x: L + 1.6, y: T + 1.6, width: 77, height: 29, r: 1.5 },
      style: { fill: "rgba(255,255,255,0.8)", stroke: "#d4d4d4", lineWidth: 0.5 },
    });
    const legendStyles = [
      { stroke: RAW_COLOR, lineWidth: 0.8, lineDash: null },
      { stroke: SMOOTH_COLOR, lineWidth: 1.7, lineDash: null },
      { stroke: CP_COLOR, lineWidth: 0.9, lineDash: [2.2, 1.2] },
      { stroke: FROM_COLOR, lineWidth: 0.9, lineDash: [2.2, 1.2] },
    ];
    LEGEND_LABELS.forEach((label, k) => {
      const cy = T + 5.8 + 6.9 * k;
      graphics.push({
        type: "line", z: 11, silent: true,
        shape: { x1: L + 4.7, y1: cy, x2: L + 13.3, y2: cy },
        style: legendStyles[k],
      });
      graphics.push({
        type: "text", x: L + 16.5, y: cy, z: 11, silent: true,
        style: { text: label, fontSize: 4.5, fontFamily: FONT, fill: TICK_COLOR, verticalAlign: "middle" },
      });
    });
  });

  // captions of the panels in the row above, cut by the top edge
  CUT_OFF_COLS.forEach((c) => {
    const L = PLOT_X0 + CELL_W * c;
    graphics.push({
      type: "text", x: L + 65, y: 4, z: 12, silent: true,
      style: { text: "Date", fontSize: 4.5, fontFamily: FONT, fill: TICK_COLOR, align: "center", verticalAlign: "middle" },
    });
    graphics.push({
      type: "text", x: L + 6, y: -1, z: 12, silent: true,
      style: { text: "2024", fontSize: 4.5, fontFamily: FONT, fill: TICK_COLOR, align: "center", verticalAlign: "middle" },
    });
  });

  // highlight around the Virginia panel
  graphics.push({
    type: "rect", z: 30, silent: true,
    shape: { x: 1042.5, y: 289, width: 144, height: 140, r: 20 },
    style: { fill: "none", stroke: "#ffa500", lineWidth: 9 },
  });

  // window-edge strip at the left
  graphics.push({
    type: "rect", z: 30, silent: true,
    shape: { x: 0, y: 0, width: 4, height: 290 },
    style: { fill: "#2fa8d8" },
  });
  graphics.push({
    type: "rect", z: 30, silent: true,
    shape: { x: 0.5, y: 290, width: 3.5, height: 92 },
    style: { fill: "none", stroke: "#2fa8d8", lineWidth: 0.8 },
  });

  return {
    animation: false,
    backgroundColor: "#ffffff",
    textStyle: { fontFamily: FONT },
    grid: grids,
    xAxis: xAxes,
    yAxis: yAxes,
    series,
    graphic: { elements: graphics },
  };
}

export default function App() {
  const ref = useRef<HTMLDivElement>(null);
  useEffect(() => {
    if (!ref.current) return;
    const chart = echarts.init(ref.current, undefined, { renderer: "svg" });
    chart.setOption(buildOption() as any);
    return () => chart.dispose();
  }, []);
  return (
    <div
      ref={ref}
      style={{ position: "fixed", left: 0, top: 0, width: 1637, height: 873, background: "#fff" }}
    />
  );
}
